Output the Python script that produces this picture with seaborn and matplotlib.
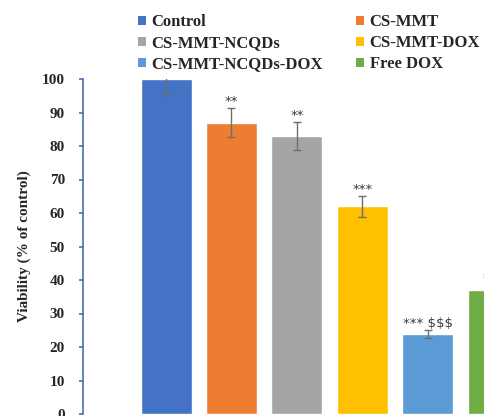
import numpy as np
import matplotlib
matplotlib.use("Agg")
import matplotlib.pyplot as plt
from matplotlib.patches import Patch
import seaborn as sns

categories = ["Control", "CS-MMT", "CS-MMT-NCQDs", "CS-MMT-DOX",
              "CS-MMT-NCQDs-DOX", "Free DOX"]
viability = [100, 87, 83, 62, 24, 37]
errors = [4.8, 4.3, 4.2, 3.1, 1.2, 1.5]
sig_labels = ["", "**", "**", "***", "*** $$$", "***"]
colors = ["#4472C4", "#ED7D31", "#A5A5A5", "#FFC000", "#5B9BD5", "#70AD47"]
yticks = [0, 10, 20, 30, 40, 50, 60, 70, 80, 90, 100]

sns.set_style("white")
serif = ["Liberation Serif", "DejaVu Serif"]

W, H = 484, 416
fig = plt.figure(figsize=(W / 100, H / 100), dpi=100)
ax = fig.add_axes([83 / W, 2 / H, (W - 83) / W, (414 - 79) / H])

sns.barplot(x=categories, y=viability, hue=categories, palette=colors,
            width=0.78, legend=False, ax=ax, order=categories,
            hue_order=categories, saturation=1, errorbar=None)

xpos = np.arange(len(categories))
ax.errorbar(xpos, viability, yerr=errors, fmt="none", ecolor="#6E6E6E",
            elinewidth=1.0, capsize=3.2, capthick=1.0, zorder=5)

for x, v, e, lab in zip(xpos, viability, errors, sig_labels):
    if lab:
        ax.annotate(lab, (x, v + e), xytext=(0, 0), textcoords="offset points",
                    ha="center", va="bottom", fontsize=9.5, color="#3A3A3A",
                    family=["DejaVu Sans"], annotation_clip=False)

ax.set_xlim(-1.27, 4.86)
ax.set_ylim(0, 100)
ax.set_yticks(yticks)
ax.set_yticklabels([str(t) for t in yticks], fontsize=11, fontweight="bold",
                   family=serif)
ax.set_xticks([])
ax.set_xlabel("")
ax.set_ylabel("Viability (% of control)", fontsize=11, fontweight="bold",
              family=serif, labelpad=8)

for s in ["top", "right", "bottom"]:
    ax.spines[s].set_visible(False)
ax.spines["left"].set_color("#3B64AD")
ax.spines["left"].set_linewidth(1.1)
ax.tick_params(axis="y", direction="out", length=3, width=1.1,
               color="#3B64AD", pad=10, left=True)

handles = [Patch(facecolor=c, edgecolor="none", label=l)
           for c, l in zip(colors, categories)]
order = [0, 2, 4, 1, 3, 5]
fig.legend([handles[i] for i in order], [categories[i] for i in order],
           loc="upper left", bbox_to_anchor=(138 / W, 1 - 14 / H), ncol=2,
           frameon=False, borderpad=0, borderaxespad=0,
           handlelength=0.45, handleheight=0.45, handletextpad=0.35,
           labelspacing=0.3, columnspacing=2.0,
           prop={"family": serif, "weight": "bold", "size": 12})

fig.savefig("out.png", dpi=100)
